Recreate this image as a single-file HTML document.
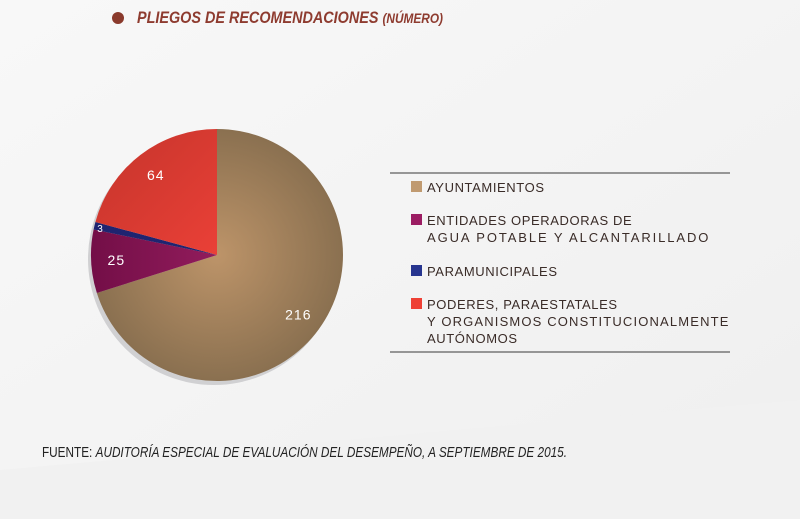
<!DOCTYPE html>
<html><head><meta charset="utf-8"><style>
html,body{margin:0;padding:0;background:#f7f7f7;}
svg{display:block;}
</style></head><body>
<svg width="800" height="519" viewBox="0 0 800 519" xmlns="http://www.w3.org/2000/svg">
<defs>
<radialGradient id="gb" cx="217" cy="255" r="126" gradientUnits="userSpaceOnUse"><stop offset="0" stop-color="#bd9469"/><stop offset="1" stop-color="#8a7050"/></radialGradient>
<linearGradient id="gr" x1="0" y1="0" x2="1" y2="1"><stop offset="0" stop-color="#c4342b"/><stop offset="1" stop-color="#ea4037"/></linearGradient>
<linearGradient id="gp" x1="0" y1="0" x2="1" y2="0"><stop offset="0" stop-color="#730e47"/><stop offset="1" stop-color="#921c5c"/></linearGradient>
<linearGradient id="bgg" x1="0" y1="0" x2="1" y2="1"><stop offset="0" stop-color="#f8f8f8"/><stop offset="1" stop-color="#efefef"/></linearGradient>
</defs>
<rect width="800" height="519" fill="url(#bgg)"/>
<polygon points="0,470 800,400 800,519 0,519" fill="#f1f1f1"/>
<circle cx="118" cy="18" r="6" fill="#8a3a2c"/>
<text x="137" y="23" textLength="306" lengthAdjust="spacingAndGlyphs" font-family="Liberation Sans, sans-serif" font-weight="bold" font-style="italic" font-size="17" fill="#8e3b2f">PLIEGOS DE RECOMENDACIONES <tspan font-size="14">(NÚMERO)</tspan></text>
<circle cx="214" cy="259" r="126" fill="#d0d0d2"/>
<g id="pie"></g>
<g>
<line x1="390" y1="173" x2="730" y2="173" stroke="#777" stroke-width="1.5"/>
<line x1="390" y1="352" x2="730" y2="352" stroke="#777" stroke-width="1.5"/>
<g font-family="Liberation Sans, sans-serif" font-size="13" fill="#3a2c28" letter-spacing="0.6">
<g><rect x="411" y="181" width="11" height="11" fill="#c09a70"/><text x="427" y="192">AYUNTAMIENTOS</text></g>
<g><rect x="411" y="214" width="11" height="11" fill="#9b1c62"/><text x="427" y="225">ENTIDADES OPERADORAS DE</text><text x="427" y="242" textLength="282">AGUA POTABLE Y ALCANTARILLADO</text></g>
<g><rect x="411" y="265" width="11" height="11" fill="#27358f"/><text x="427" y="276">PARAMUNICIPALES</text></g>
<g><rect x="411" y="298" width="11" height="11" fill="#ee4035"/><text x="427" y="309">PODERES, PARAESTATALES</text><text x="427" y="326" textLength="302">Y ORGANISMOS CONSTITUCIONALMENTE</text><text x="427" y="343">AUTÓNOMOS</text></g>
</g></g>
<text x="42" y="457" textLength="525" lengthAdjust="spacingAndGlyphs" font-family="Liberation Sans, sans-serif" font-size="15" fill="#222">FUENTE: <tspan font-style="italic">AUDITORÍA ESPECIAL DE EVALUACIÓN DEL DESEMPEÑO, A SEPTIEMBRE DE 2015.</tspan></text>
</svg>
<script>
const categories = ["Ayuntamientos", "Entidades operadoras", "Paramunicipales", "Poderes"];
const values = [216, 25, 3, 64];
const fills = ["url(#gb)", "url(#gp)", "#1f2470", "url(#gr)"];
const cx = 217, cy = 255, R = 126;
const g = document.getElementById('pie');
const NS = 'http://www.w3.org/2000/svg';
const total = values.reduce((a, b) => a + b, 0);
function pt(a, r) { return [cx + r * Math.sin(a), cy - r * Math.cos(a)]; }
let acc = 0;
values.forEach((v, i) => {
  const a0 = acc / total * 2 * Math.PI, a1 = (acc + v) / total * 2 * Math.PI;
  acc += v;
  const p0 = pt(a0, R), p1 = pt(a1, R);
  const large = (a1 - a0) > Math.PI ? 1 : 0;
  const path = document.createElementNS(NS, 'path');
  path.setAttribute('d', `M${cx},${cy} L${p0[0]},${p0[1]} A${R},${R} 0 ${large} 1 ${p1[0]},${p1[1]} Z`);
  path.setAttribute('fill', fills[i]);
  
  
  g.appendChild(path);
  const am = (a0 + a1) / 2;
  const lr = v / total < 0.02 ? 0.95 * R : (v / total < 0.1 ? 0.8 * R : 0.8 * R);
  const lp = pt(am, lr);
  const t = document.createElementNS(NS, 'text');
  t.setAttribute('x', lp[0]);
  t.setAttribute('y', lp[1] + 5);
  t.setAttribute('text-anchor', 'middle');
  t.setAttribute('font-family', 'Liberation Sans, sans-serif');
  t.setAttribute('font-size', v / total < 0.02 ? '10' : '14');
  t.setAttribute('fill', '#fff');
  t.setAttribute('letter-spacing', '1');
  t.textContent = v;
  
  
  g.appendChild(t);
});
</script>
</body></html>
